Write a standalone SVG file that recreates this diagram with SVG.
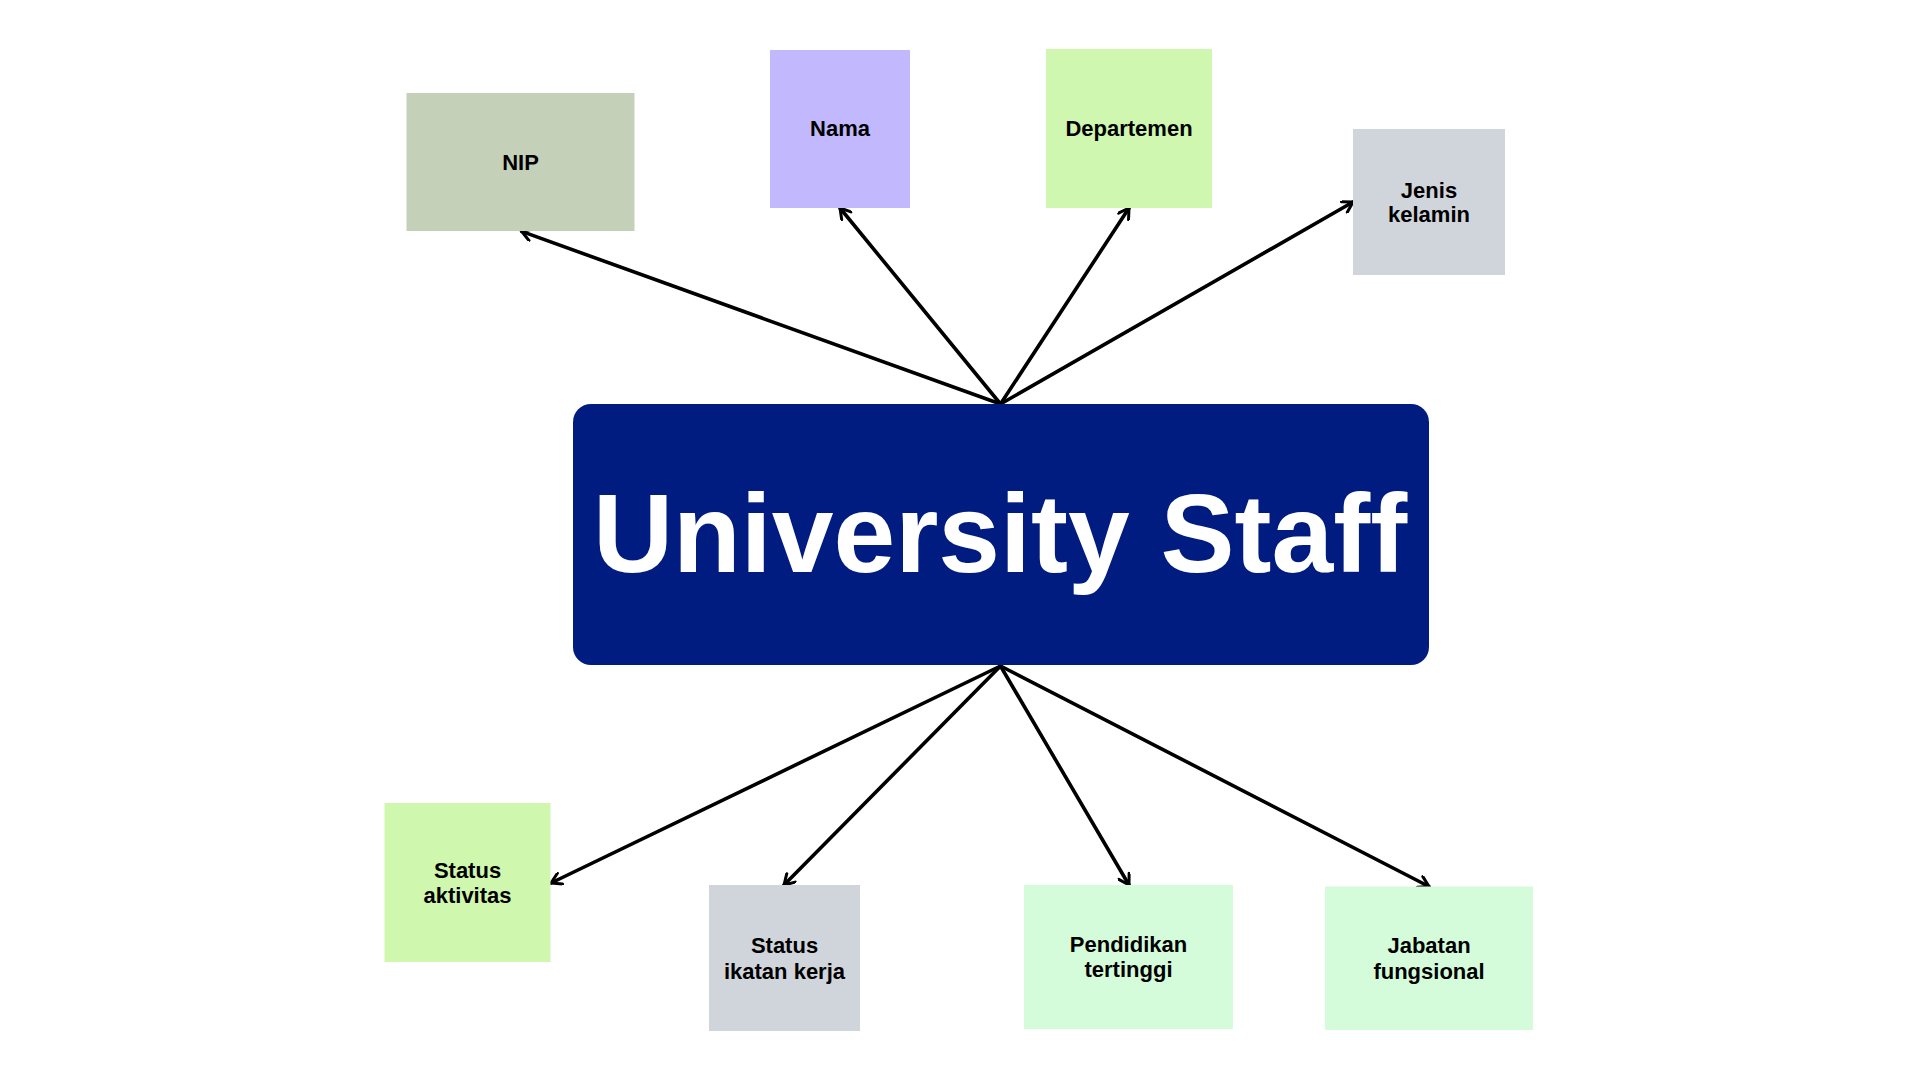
<svg xmlns="http://www.w3.org/2000/svg" width="1920" height="1080" viewBox="0 0 1920 1080">
<defs>
<style>
.lbl{font-family:"Liberation Sans",Arial,sans-serif;font-weight:bold;font-size:22px;fill:#000;text-anchor:middle}
.title{font-family:"Liberation Sans",Arial,sans-serif;font-weight:bold;font-size:111px;fill:#fff;text-anchor:middle}
.conn{stroke:#000;stroke-width:3.6;fill:none;stroke-linecap:round}
</style>
<marker id="arr" viewBox="0 0 14 14" refX="12" refY="7" markerWidth="14" markerHeight="14" markerUnits="userSpaceOnUse" orient="auto">
<path d="M2,1 L12,7 L2,13" fill="none" stroke="#000" stroke-width="3" stroke-linecap="round" stroke-linejoin="round"/>
</marker>
</defs>
<rect width="1920" height="1080" fill="#fff"/>
<g id="connectors">
<line class="conn" x1="1000.5" y1="404" x2="521.6" y2="231.4" marker-end="url(#arr)"/>
<line class="conn" x1="1000.5" y1="404" x2="840" y2="208" marker-end="url(#arr)"/>
<line class="conn" x1="1000.5" y1="404" x2="1129" y2="208" marker-end="url(#arr)"/>
<line class="conn" x1="1000.5" y1="404" x2="1353" y2="202" marker-end="url(#arr)"/>
<line class="conn" x1="1000.5" y1="666" x2="551" y2="883" marker-end="url(#arr)"/>
<line class="conn" x1="1000.5" y1="666" x2="784" y2="885" marker-end="url(#arr)"/>
<line class="conn" x1="1000.5" y1="666" x2="1129" y2="885" marker-end="url(#arr)"/>
<line class="conn" x1="1000.5" y1="666" x2="1429" y2="886.5" marker-end="url(#arr)"/>
</g>
<g id="center">
<rect x="573" y="404" width="856" height="261" rx="18" fill="#001C80"/>
<text class="title" x="1000" y="572">University Staff</text>
</g>
<g id="nip">
<rect x="406.5" y="93" width="228" height="138" fill="#C5D0B8"/>
<text class="lbl" x="520.5" y="170">NIP</text>
</g>
<g id="nama">
<rect x="770" y="50" width="140" height="158" fill="#C2B8FD"/>
<text class="lbl" x="840" y="136">Nama</text>
</g>
<g id="departemen">
<rect x="1046" y="49" width="166" height="159" fill="#CFF7B0"/>
<text class="lbl" x="1129" y="136">Departemen</text>
</g>
<g id="jenis-kelamin">
<rect x="1353" y="129" width="152" height="146" fill="#D0D4DB"/>
<text class="lbl" x="1429" y="198">Jenis</text>
<text class="lbl" x="1429" y="222">kelamin</text>
</g>
<g id="status-aktivitas">
<rect x="384.5" y="803" width="166" height="159" fill="#CFF7AE"/>
<text class="lbl" x="467.5" y="878">Status</text>
<text class="lbl" x="467.5" y="903">aktivitas</text>
</g>
<g id="status-ikatan-kerja">
<rect x="709" y="885" width="151" height="146" fill="#D0D4DB"/>
<text class="lbl" x="784.5" y="953">Status</text>
<text class="lbl" x="784.5" y="979">ikatan kerja</text>
</g>
<g id="pendidikan-tertinggi">
<rect x="1024" y="885" width="209" height="144" fill="#D5FCDA"/>
<text class="lbl" x="1128.5" y="952">Pendidikan</text>
<text class="lbl" x="1128.5" y="977">tertinggi</text>
</g>
<g id="jabatan-fungsional">
<rect x="1325" y="886.5" width="208" height="143.5" fill="#D5FCDA"/>
<text class="lbl" x="1429" y="953">Jabatan</text>
<text class="lbl" x="1429" y="979">fungsional</text>
</g>
</svg>
